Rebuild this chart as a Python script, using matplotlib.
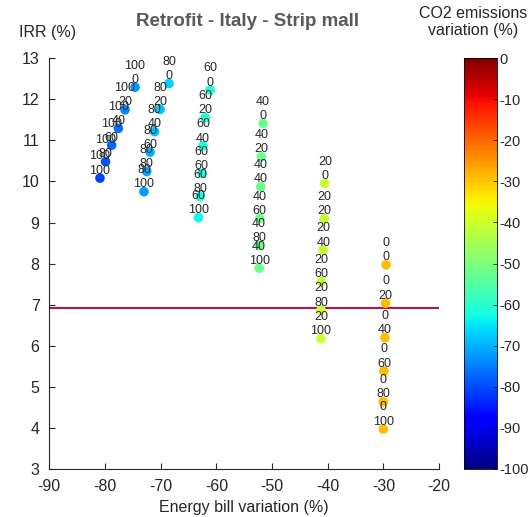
import numpy as np
import matplotlib.pyplot as plt
from matplotlib.colors import Normalize

plt.rcParams['font.family'] = ['Liberation Sans', 'DejaVu Sans']
plt.rcParams['axes.unicode_minus'] = False

# first share (top label line), one value per column of points
groups = [100, 80, 60, 40, 20, 0]
# second share (bottom label line), same steps in every column
steps = [0, 20, 40, 60, 80, 100]

energy_bill = [
    [-74.6, -76.4, -77.6, -78.8, -79.9, -80.9],
    [-68.5, -70.1, -71.1, -71.9, -72.5, -73.0],
    [-61.1, -62.0, -62.4, -62.6, -62.9, -63.2],
    [-51.6, -51.9, -52.0, -52.2, -52.3, -52.3],
    [-40.5, -40.6, -40.8, -41.1, -41.2, -41.2],
    [-29.5, -29.6, -29.7, -29.9, -30.0, -30.0],
]
irr = [
    [12.29, 11.74, 11.29, 10.88, 10.48, 10.08],
    [12.38, 11.75, 11.21, 10.71, 10.24, 9.75],
    [12.22, 11.55, 10.86, 10.20, 9.63, 9.12],
    [11.41, 10.60, 9.87, 9.10, 8.45, 7.89],
    [9.95, 9.09, 8.33, 7.56, 6.87, 6.18],
    [7.97, 7.04, 6.20, 5.39, 4.64, 3.98],
]
co2 = [
    [-72, -74, -76, -77, -79, -81],
    [-67, -68, -69, -70, -71, -72],
    [-61, -61, -62, -62, -62, -63],
    [-52, -52, -52, -52, -52, -52],
    [-41, -41, -41, -41, -41, -41],
    [-29, -29, -29, -29, -29, -29],
]
irr_threshold = 6.93

txt = '#262626'
fig = plt.figure(figsize=(5.31, 5.17), dpi=100)
ax = fig.add_axes([49.3/531, 47.7/517, 389.7/531, 411.3/517])
cax = fig.add_axes([464/531, 48/517, 33/531, 411/517])

norm = Normalize(vmin=-100, vmax=0)
ax.axhline(irr_threshold, color='#B0174C', lw=1.5, zorder=1)

for g, xs, ys, cs in zip(groups, energy_bill, irr, co2):
    ax.scatter(xs, ys, c=cs, cmap='jet', norm=norm, s=48,
               edgecolors='none', zorder=2)
    for s, x, y in zip(steps, xs, ys):
        ax.annotate(f"{g}\n{s}", (x, y), xytext=(0, 1), textcoords='offset points',
                    ha='center', va='bottom', fontsize=9, color=txt,
                    linespacing=1.25, zorder=3)

ax.set_xlim(-90, -20)
ax.set_ylim(3, 13)
ax.set_xticks(np.arange(-90, -19, 10))
ax.set_yticks(np.arange(3, 14, 1))
for side in ['top', 'right']:
    ax.spines[side].set_visible(False)
for side in ['left', 'bottom']:
    ax.spines[side].set_color(txt)
    ax.spines[side].set_linewidth(0.8)
ax.tick_params(direction='in', length=4, width=0.8, colors=txt, labelsize=11.5)
ax.tick_params(axis='x', pad=7)
ax.tick_params(axis='y', pad=7)
ax.set_xlabel('Energy bill variation (%)', fontsize=11.5, color=txt, labelpad=4)

fig.text(48/531, 1 - 33/517, 'IRR (%)', ha='center', va='center', fontsize=11.5, color=txt)
fig.text(248/531, 1 - 21/517, 'Retrofit - Italy - Strip mall', ha='center', va='center',
         fontsize=13.5, fontweight='bold', color='#595959')

cb = fig.colorbar(plt.cm.ScalarMappable(norm=norm, cmap='jet'), cax=cax)
cb.set_ticks(np.arange(-100, 1, 10))
cb.ax.tick_params(direction='in', length=3, width=0.6, colors=txt, labelsize=10.5, pad=2)
cb.outline.set_linewidth(0.6)
fig.text(473/531, 1 - 22/517, 'CO2 emissions\nvariation (%)', ha='center', va='center',
         fontsize=11.5, color=txt, linespacing=1.2)

fig.savefig('out.png', dpi=100)
